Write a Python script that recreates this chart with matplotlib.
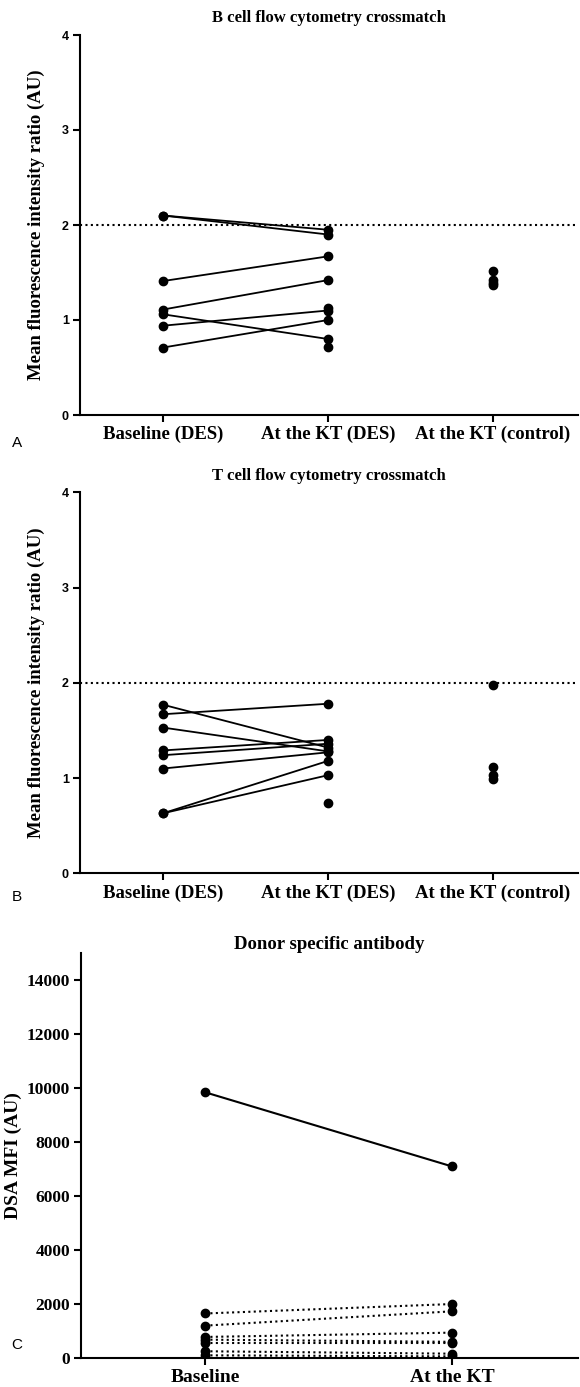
import numpy as np
import matplotlib
matplotlib.use("Agg")
import matplotlib.pyplot as plt

# values
# panel A - B cell flow crossmatch (MFI ratio)
b_base = [2.10, 2.10, 1.41, 1.11, 1.06, 0.94, 0.71]
b_kt = [1.95, 1.90, 1.67, 1.42, 0.80, 1.10, 1.00]
b_kt_extra = [1.13, 0.72]          # DES points at KT with no baseline pair
b_control = [1.52, 1.42, 1.39, 1.37]

# panel B - T cell flow crossmatch
t_base = [1.77, 1.67, 1.53, 1.29, 1.24, 1.10, 0.63, 0.63]
t_kt = [1.32, 1.78, 1.28, 1.40, 1.36, 1.27, 1.18, 1.03]
t_kt_extra = [0.74]
t_control = [1.98, 1.12, 1.03, 0.99]

# panel C - DSA MFI
dsa_base = [9850, 1650, 1200, 780, 680, 560, 250, 100, 0]
dsa_kt = [7100, 2000, 1730, 940, 600, 560, 160, 60, 0]

fc_labels = ["Baseline (DES)", "At the KT (DES)", "At the KT (control)"]
dsa_labels = ["Baseline", "At the KT"]
cutoff = 2.0

W, H = 580, 1387
serif = "Liberation Serif"
sans = "Liberation Sans"


def px_rect(left, top, right, bottom):
    return [left / W, 1 - bottom / H, (right - left) / W, (bottom - top) / H]


def style_axis(ax):
    ax.spines['top'].set_visible(False)
    ax.spines['right'].set_visible(False)
    ax.spines['left'].set_linewidth(1.5)
    ax.spines['bottom'].set_linewidth(1.5)
    ax.tick_params(direction='out', length=5, width=1.5, pad=3)


def fc_panel(ax, base, kt, extra, control, title):
    for y0, y1 in zip(base, kt):
        ax.plot([0, 1], [y0, y1], color='black', lw=1.3, marker='o', ms=6)
    ax.plot(np.ones(len(extra)), extra, 'o', color='black', ms=6)
    ax.plot(np.full(len(control), 2), control, 'o', color='black', ms=6)
    ax.axhline(cutoff, color='black', lw=1.5, ls=(0, (1, 1.6)))
    ax.set_xlim(-0.503, 2.515)
    ax.set_ylim(0, 4)
    ax.set_yticks([0, 1, 2, 3, 4])
    ax.set_xticks([0, 1, 2])
    ax.set_xticklabels(fc_labels, fontsize=13.5, fontweight='bold', fontname=serif)
    for t in ax.get_yticklabels():
        t.set_fontname(sans)
        t.set_fontweight('bold')
        t.set_fontsize(9)
    ax.set_ylabel("Mean fluorescence intensity ratio (AU)", fontsize=13.5,
                  fontweight='bold', fontname=serif)
    ax.yaxis.set_label_coords(-0.07, 0.5)
    ax.set_title(title, fontsize=12, fontweight='bold', fontname=serif, pad=9)
    style_axis(ax)


fig = plt.figure(figsize=(W / 100, H / 100), dpi=100)

axA = fig.add_axes(px_rect(80, 35, 578, 415))
fc_panel(axA, b_base, b_kt, b_kt_extra, b_control, "B cell flow cytometry crossmatch")

axB = fig.add_axes(px_rect(80, 492.3, 578, 873.3))
fc_panel(axB, t_base, t_kt, t_kt_extra, t_control, "T cell flow cytometry crossmatch")

axC = fig.add_axes(px_rect(81, 953.3, 578, 1358))
for i, (y0, y1) in enumerate(zip(dsa_base, dsa_kt)):
    ls = '-' if i == 0 else (0, (1, 1.6))
    axC.plot([0, 1], [y0, y1], color='black', lw=1.5, ls=ls, marker='o', ms=6)
axC.set_xlim(-0.502, 1.51)
axC.set_ylim(0, 15000)
axC.set_yticks(np.arange(0, 14001, 2000))
axC.set_xticks([0, 1])
axC.set_xticklabels(dsa_labels, fontsize=14, fontweight='bold', fontname=serif)
for t in axC.get_yticklabels():
    t.set_fontname(serif)
    t.set_fontweight('bold')
    t.set_fontsize(12.5)
axC.set_ylabel("DSA MFI (AU)", fontsize=14, fontweight='bold', fontname=serif)
axC.yaxis.set_label_coords(-0.119, 0.5)
axC.set_title("Donor specific antibody", fontsize=13.5, fontweight='bold',
              fontname=serif, pad=0)
style_axis(axC)

# panel letters
for letter, ypx in [("A", 443), ("B", 897), ("C", 1345)]:
    fig.text(17 / W, 1 - ypx / H, letter, fontsize=11, fontname=sans,
             ha='center', va='center')

fig.savefig("out.png", dpi=100)
